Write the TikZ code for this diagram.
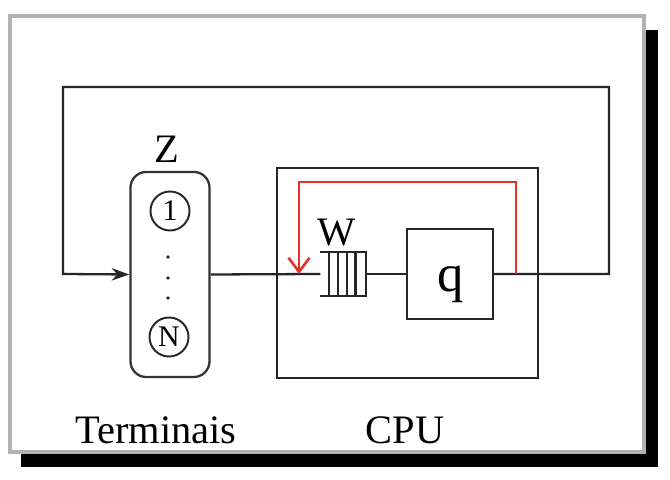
\documentclass[tikz,border=0pt]{standalone}
\usepackage{fontspec}
\setmainfont{Liberation Serif}
\usepackage{xcolor}
\usetikzlibrary{arrows.meta,positioning}

\definecolor{fbred}{RGB}{232,48,38}

\begin{document}
\begin{tikzpicture}[
    x=0.01cm, y=-0.01cm,
    line/.style={draw=black!85, line width=0.65pt},
    term/.style={rectangle, rounded corners=4.5pt, draw=black!80, line width=0.65pt, minimum width=0.79cm, minimum height=2.05cm},
    unit/.style={circle, draw=black!85, line width=0.55pt, minimum size=0.39cm, inner sep=0pt, font=\fontsize{8.5}{10}\selectfont},
    box/.style={rectangle, draw=black!85, line width=0.65pt},
    lbl/.style={font=\fontsize{11.5}{14}\selectfont, inner sep=0pt},
    arrow/.style={-{Stealth[length=5pt,width=3.5pt]}},
    fb/.style={draw=fbred, line width=0.75pt, -{Straight Barb[length=4pt,width=6pt]}}
]
\useasboundingbox (0,0) rectangle (670,480);

% Frame with shadow
\fill[black] (21,30) rectangle (658,467);
\draw[fill=white, draw=gray!60, line width=1pt] (10,16) rectangle (644,452);

% Terminals
\node[term] (term) at (170,274.5) {};
\node[unit] (u1) at (170,211) {1};
\node[unit] (uN) at (169,337) {N};
\foreach \y in {257,278,298}
    \fill[black!85] (168,\y) circle (1.9);
\node[lbl] (zlab) at (167,149) {Z};
\node[lbl] (tlab) at (156,430) {Terminais};

% CPU
\node[box, minimum width=2.61cm, minimum height=2.1cm] (cpu) at (407.5,273) {};
\node[lbl] (clab) at (405,430) {CPU};

% Queue and server
\node[minimum width=0.44cm, minimum height=0.42cm, inner sep=0pt] (queue) at (343,274) {};
\draw[line] (queue.north west) -- (queue.north east) -- (queue.south east) -- (queue.south west);
\foreach \i in {1,...,4}
    \draw[line] ([xshift=0.088cm*\i]queue.north west) -- ([xshift=0.088cm*\i]queue.south west);
\node[lbl] (wlab) at (337,233) {W};
\node[box, minimum width=0.86cm, minimum height=0.9cm] (srv) at (450,274) {};
\node[font=\fontsize{15}{18}\selectfont, inner sep=0pt, anchor=base] (qlab) at (451,292) {q};

% Connections
\coordinate (loopL) at (63,274);
\coordinate (topL) at (63,87);
\coordinate (topR) at (609,87);
\coordinate (loopR) at (609,274);
\draw[line] (term.east) -- (queue.west);
\draw[line] (queue.east) -- (srv.west);
\draw[line, arrow] (srv.east) -- (loopR) -- (topR) -- (topL) -- (loopL) -- (term.west);

% Feedback
\coordinate (fbOut) at (516,274);
\coordinate (fbR) at (516,182);
\coordinate (fbL) at (299,182);
\coordinate (fbIn) at (299,274);
\draw[fb] (fbOut) -- (fbR) -- (fbL) -- (fbIn);

\end{tikzpicture}
\end{document}
